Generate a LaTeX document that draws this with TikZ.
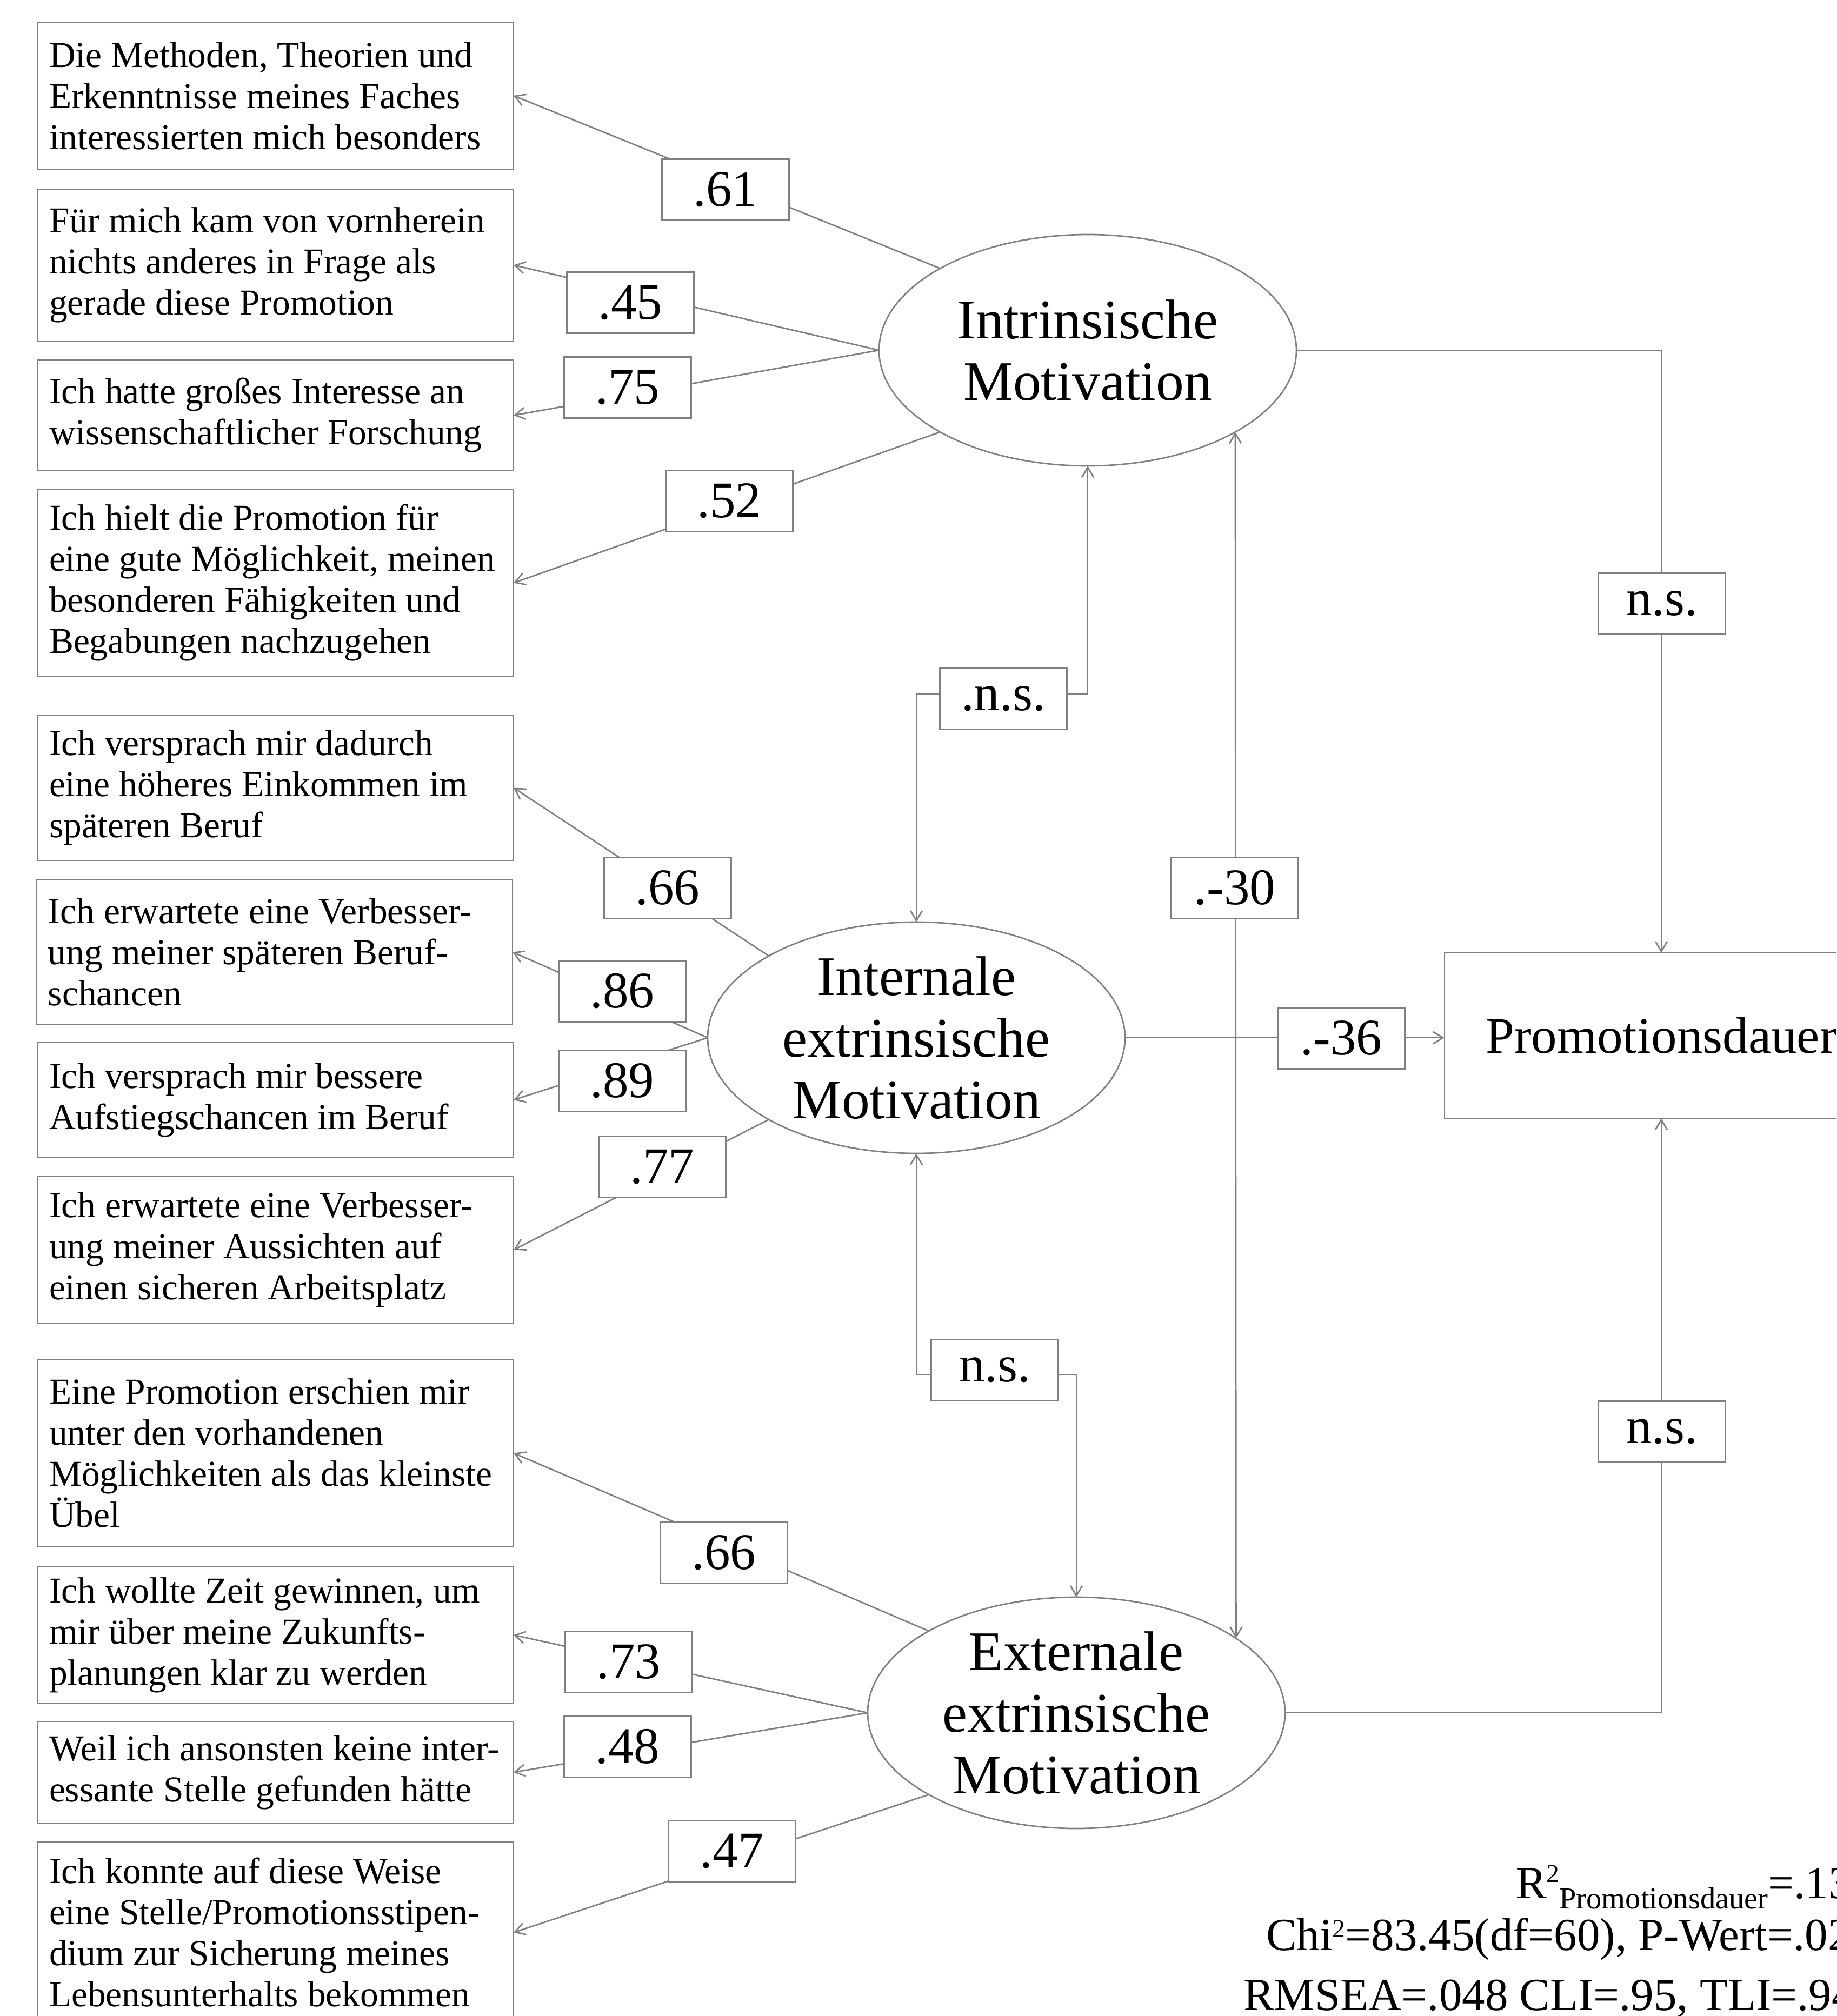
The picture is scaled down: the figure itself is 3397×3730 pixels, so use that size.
\documentclass[tikz,border=0pt]{standalone}
\usepackage{fontspec}
\setmainfont{Liberation Serif}
\usetikzlibrary{arrows.meta,shapes.geometric}
\definecolor{lgray}{RGB}{128,128,128}
\pgfdeclarelayer{bg}\pgfsetlayers{bg,main}
\newcommand\myqfont{\fontsize{13.5}{15.2}\selectfont}
\newcommand\myefont{\fontsize{20.7}{22.8}\selectfont}
\newcommand\mynfont{\fontsize{19}{22}\selectfont}
\newcommand\mysfont{\fontsize{17}{20}\selectfont}
\begin{document}
\begin{tikzpicture}[x=0.2pt,y=-0.2pt,
 ln/.style={draw=lgray, line width=0.55pt},
 arr/.style={ln, -{Straight Barb[length=3.7pt,width=4.4pt]}},
 darr/.style={ln, {Straight Barb[length=3.7pt,width=4.4pt]}-{Straight Barb[length=3.7pt,width=4.4pt]}},
 qbox/.style={draw=lgray, line width=0.55pt, fill=white, minimum width=176.2pt, inner sep=0pt, outer sep=0pt, anchor=north west},
 qtext/.style={anchor=west, align=left, inner sep=0pt, font=\myqfont},
 lat/.style={ellipse, draw=lgray, line width=0.55pt, fill=white, minimum width=154.4pt, minimum height=85.6pt, inner sep=0pt, outer sep=0pt},
 lattext/.style={align=center, inner sep=0pt, font=\myefont},
 lbl/.style={draw=lgray, line width=0.55pt, fill=white, minimum width=47pt, minimum height=22.6pt, inner sep=0pt, outer sep=0pt, font=\mynfont},
 stat/.style={anchor=base west, inner sep=0pt, font=\mysfont}]
\useasboundingbox (0,0) rectangle (3397,3730);
\clip (0,0) rectangle (3397,3730);

% indicator boxes
\node[qbox, minimum height=54.4pt] (b1) at (69,41) {};
\node[qtext] (t1) at ([xshift=4.2pt]b1.west) {Die Methoden, Theorien und\\Erkenntnisse meines Faches\\interessierten mich besonders};
\node[qbox, minimum height=56.2pt] (b2) at (69,350) {};
\node[qtext] (t2) at ([xshift=4.2pt]b2.west) {Für mich kam von vornherein\\nichts anderes in Frage als\\gerade diese Promotion};
\node[qbox, minimum height=41pt] (b3) at (69,666) {};
\node[qtext] (t3) at ([xshift=4.2pt]b3.west) {Ich hatte großes Interesse an\\wissenschaftlicher Forschung};
\node[qbox, minimum height=69pt] (b4) at (69,906) {};
\node[qtext] (t4) at ([xshift=4.2pt]b4.west) {Ich hielt die Promotion für\\eine gute Möglichkeit, meinen\\besonderen Fähigkeiten und\\Begabungen nachzugehen};
\node[qbox, minimum height=53.8pt] (b5) at (69,1323) {};
\node[qtext] (t5) at ([xshift=4.2pt]b5.west) {Ich versprach mir dadurch\\eine höheres Einkommen im\\späteren Beruf};
\node[qbox, minimum height=53.8pt] (b6) at (67,1627) {};
\node[qtext] (t6) at ([xshift=4.2pt]b6.west) {Ich erwartete eine Verbesser-\\ung meiner späteren Beruf-\\schancen};
\node[qbox, minimum height=42.4pt] (b7) at (69,1929) {};
\node[qtext] (t7) at ([xshift=4.2pt]b7.west) {Ich versprach mir bessere\\Aufstiegschancen im Beruf};
\node[qbox, minimum height=54.2pt] (b8) at (69,2177) {};
\node[qtext] (t8) at ([xshift=4.2pt]b8.west) {Ich erwartete eine Verbesser-\\ung meiner Aussichten auf\\einen sicheren Arbeitsplatz};
\node[qbox, minimum height=69.4pt] (b9) at (69,2515) {};
\node[qtext] (t9) at ([xshift=4.2pt]b9.west) {Eine Promotion erschien mir\\unter den vorhandenen\\Möglichkeiten als das kleinste\\Übel};
\node[qbox, minimum height=50.8pt] (b10) at (69,2898) {};
\node[qtext] (t10) at ([xshift=4.2pt]b10.west) {Ich wollte Zeit gewinnen, um\\mir über meine Zukunfts-\\planungen klar zu werden};
\node[qbox, minimum height=37.6pt] (b11) at (69,3185) {};
\node[qtext] (t11) at ([xshift=4.2pt]b11.west) {Weil ich ansonsten keine inter-\\essante Stelle gefunden hätte};
\node[qbox, minimum height=67pt] (b12) at (69,3408) {};
\node[qtext] (t12) at ([xshift=4.2pt]b12.west) {Ich konnte auf diese Weise\\eine Stelle/Promotionsstipen-\\dium zur Sicherung meines\\Lebensunterhalts bekommen};

% latent variables
\node[lat] (intr) at (2012,648) {};
\node[lattext] (intrt) at (intr) {Intrinsische\\Motivation};
\node[lat] (int) at (1695,1920) {};
\node[lattext] (intt) at (int) {Internale\\extrinsische\\Motivation};
\node[lat] (ext) at (1991,3169) {};
\node[lattext] (extt) at (ext) {Externale\\extrinsische\\Motivation};

% outcome
\node[draw=lgray, line width=0.55pt, fill=white, minimum width=160.4pt, minimum height=61.2pt, inner sep=0pt, outer sep=0pt, font=\mynfont] (prom) at (3073,1916) {Promotionsdauer};

% routing coordinates
\coordinate (c1) at (1856,1284);
\coordinate (c2) at (1840,2543);

% labels
\node[lbl] (l61) at (1342,351) {.61};
\node[lbl] (l45) at (1166,560) {.45};
\node[lbl] (l75) at (1161,717) {.75};
\node[lbl] (l52) at (1349,927) {.52};
\node[lbl] (lns1) at (1856,1293) {.n.s.};
\node[lbl] (lns2) at (3074,1117) {n.s.};
\node[lbl] (l66a) at (1235,1643) {.66};
\node[lbl] (l30) at (2284,1643) {.-30};
\node[lbl] (l86) at (1151,1834) {.86};
\node[lbl] (l36) at (2481,1921) {.-36};
\node[lbl] (l89) at (1151,2000) {.89};
\node[lbl] (l77) at (1225,2159) {.77};
\node[lbl] (lns3) at (1840,2535) {n.s.};
\node[lbl] (lns4) at (3074,2649) {n.s.};
\node[lbl] (l66b) at (1339,2873) {.66};
\node[lbl] (l73) at (1163,3075) {.73};
\node[lbl] (l48) at (1161,3232) {.48};
\node[lbl] (l47) at (1354,3425) {.47};

% statistics
\node[stat] (st1) at (2803,3512) {R\raisebox{6pt}{\fontsize{9.5}{10}\selectfont 2}\raisebox{-3.8pt}{\fontsize{11.3}{12}\selectfont Promotionsdauer}=.13};
\node[stat] (st2) at (2341,3608) {Chi\raisebox{4.8pt}{\fontsize{9.5}{10}\selectfont 2}=83.45(df=60), P-Wert=.02};
\node[stat] (st3) at (2299,3719) {RMSEA=.048 CLI=.95, TLI=.94};

\begin{pgfonlayer}{bg}
\fill[white] (0,0) rectangle (3397,3730);
\draw[arr] (intr.north west) -- (b1.east);
\draw[arr] (intr.west) -- (b2.east);
\draw[arr] (intr.west) -- (b3.east);
\draw[arr] (intr.south west) -- (b4.east);
\draw[arr] (int.north west) -- (b5.east);
\draw[arr] (int.west) -- (b6.east);
\draw[arr] (int.west) -- (b7.east);
\draw[arr] (int.south west) -- (b8.east);
\draw[arr] (ext.north west) -- (b9.east);
\draw[arr] (ext.west) -- (b10.east);
\draw[arr] (ext.west) -- (b11.east);
\draw[arr] (ext.south west) -- (b12.east);
\draw[arr] (intr.east) -| (prom.north);
\draw[arr] (ext.east) -| (prom.south);
\draw[arr] (int.east) -- (int.east -| prom.west);
\draw[darr] (intr.south) |- (c1) -| (int.north);
\draw[darr] (int.south) |- (c2) -| (ext.north);
\draw[darr] (intr.-29.17) -- (ext.25.35);
\end{pgfonlayer}
\end{tikzpicture}
\end{document}
